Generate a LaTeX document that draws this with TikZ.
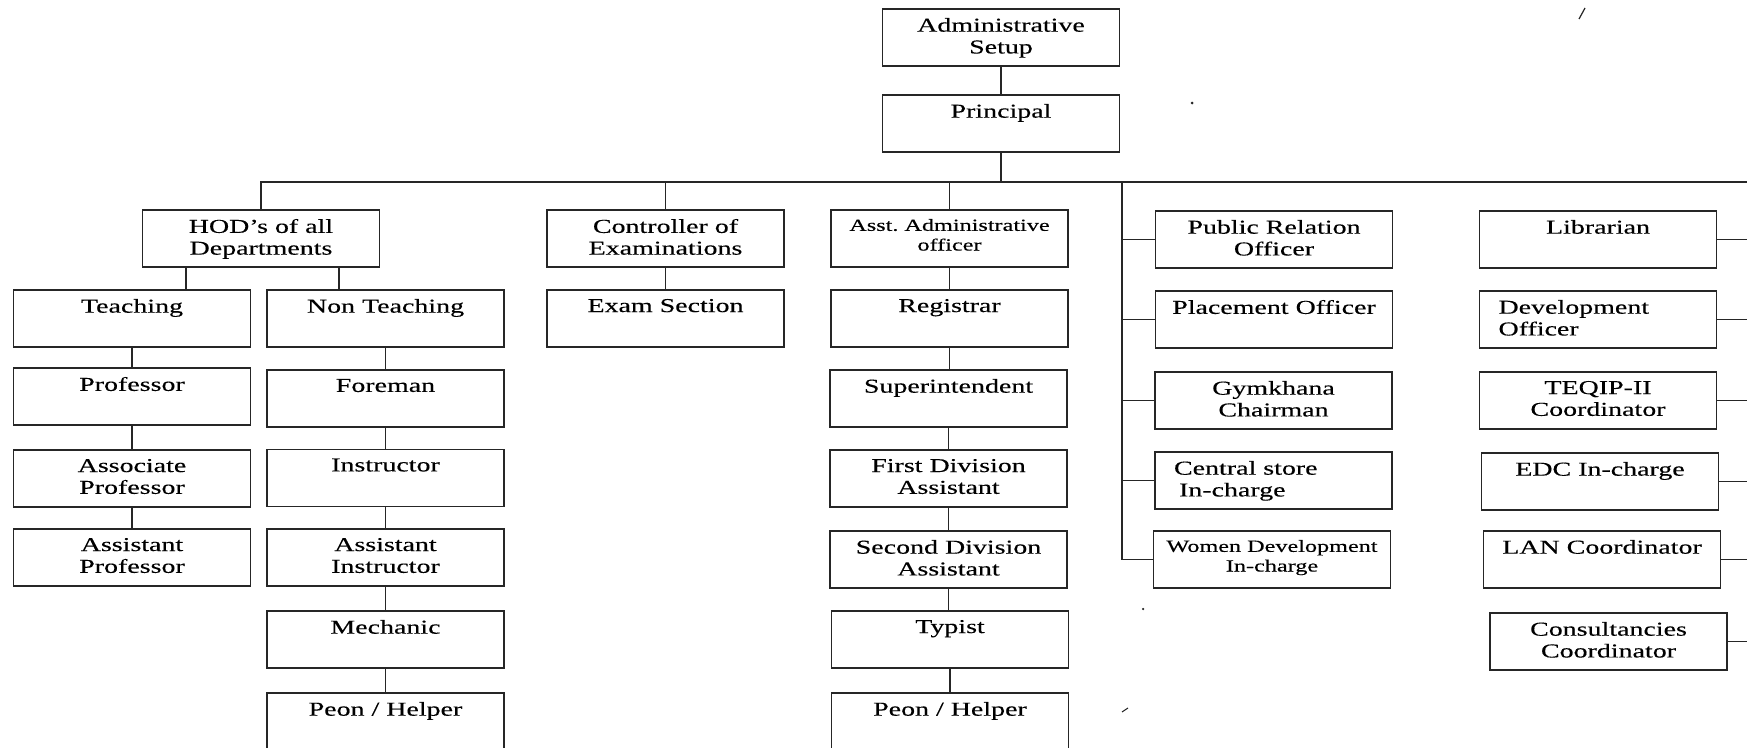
\documentclass[tikz,border=0pt]{standalone}
\usepackage{fontspec}
\setmainfont{Liberation Serif}[FakeStretch=1.42, FakeBold=0.3]
\definecolor{ink}{gray}{0.15}

\tikzset{
	post/.style={draw=ink, text=black, line width=1.05pt, inner sep=0pt,
		minimum width=4.74cm, minimum height=1.14cm},
	link/.style={draw=ink, line width=1.05pt}
}
% text sits at the top of each box
\newcommand{\posttext}[2][\centering]{\parbox[c][1.14cm][t]{4.74cm}{\vspace*{0.18cm}\fontsize{11.2}{12.4}\selectfont#1 #2}}

\begin{document}
\begin{tikzpicture}[x=0.02cm, y=-0.02cm]
\useasboundingbox (0,0) rectangle (1747,747);
\coordinate (busR) at (1747,182);
\coordinate (trunk) at (1122,182);

\node[post] (setup) at (1001,37.5) {\posttext{Administrative\\Setup}};
\node[post] (principal) at (1001,123.5) {\posttext{Principal}};

% first row
\node[post] (hod) at (261,238.5) {\posttext{HOD's of all\\Departments}};
\node[post] (ctrl) at (665.5,238.5) {\posttext{Controller of\\Examinations}};
\node[post] (asst) at (949.5,238.5) {\posttext[\centering\fontsize{9.7}{11.2}\selectfont]{Asst.\ Administrative\\officer}};
\node[post] (pro) at (1274,239.5) {\posttext{Public Relation\\Officer}};
\node[post] (lib) at (1598,239.5) {\posttext{Librarian}};

% second row
\node[post] (teach) at (132,318.5) {\posttext{Teaching}};
\node[post] (nonteach) at (385.5,318.5) {\posttext{Non Teaching}};
\node[post] (exam) at (665.5,318.5) {\posttext{Exam Section}};
\node[post] (registrar) at (949.5,318.5) {\posttext{Registrar}};
\node[post] (place) at (1274,319.5) {\posttext{Placement Officer}};
\node[post] (dev) at (1598,319.5) {\posttext[\raggedright\leftskip=0.38cm]{Development\\Officer}};

% third row
\node[post] (prof) at (132,396.5) {\posttext{Professor}};
\node[post] (foreman) at (385.5,398.5) {\posttext{Foreman}};
\node[post] (supt) at (948.5,398.5) {\posttext{Superintendent}};
\node[post] (gym) at (1273.5,400.5) {\posttext{Gymkhana\\Chairman}};
\node[post] (teqip) at (1598,400.5) {\posttext{TEQIP-II\\Coordinator}};

% fourth row
\node[post] (assoc) at (132,478.5) {\posttext{Associate\\Professor}};
\node[post] (instr) at (385.5,478) {\posttext{Instructor}};
\node[post] (firstdiv) at (948.5,478.5) {\posttext{First Division\\Assistant}};
\node[post] (store) at (1273.5,480.5) {\posttext[\raggedright\leftskip=0.38cm]{Central store\\\hspace*{0.1cm}In-charge}};
\node[post] (edc) at (1600,481.5) {\posttext{EDC In-charge}};

% fifth row
\node[post] (asstprof) at (132,557.5) {\posttext{Assistant\\Professor}};
\node[post] (asstinstr) at (385.5,557.5) {\posttext{Assistant\\Instructor}};
\node[post] (seconddiv) at (948.5,559.5) {\posttext{Second Division\\Assistant}};
\node[post] (women) at (1272,559.5) {\posttext[\centering\fontsize{9.7}{11.2}\selectfont]{Women Development\\In-charge}};
\node[post] (lan) at (1602,559.5) {\posttext{LAN Coordinator}};

% lower rows
\node[post] (mech) at (385.5,639.5) {\posttext{Mechanic}};
\node[post] (typist) at (950,639.5) {\posttext{Typist}};
\node[post] (cons) at (1608.5,641.5) {\posttext{Consultancies\\Coordinator}};
\node[post] (peonA) at (385.5,721.5) {\posttext{Peon / Helper}};
\node[post] (peonB) at (950,721.5) {\posttext{Peon / Helper}};

% bus and branches
\draw[link] (setup) -- (principal);
\draw[link] (principal.south) -- (principal.south |- busR);
\draw[link] (hod.north) |- (busR);
\foreach \n in {ctrl,asst}
	\draw[link] (\n.north) -- (\n.north |- busR);
\draw[link] (trunk) |- (women.west);
\foreach \n in {pro,place,gym,store}
	\draw[link] (trunk |- \n.west) -- (\n.west);
\foreach \n in {lib,dev,teqip,edc,lan,cons}
	\draw[link] (\n.east) -- (\n.east -| busR);

% columns
\draw[link] ([xshift=-1.5cm]hod.south) -- ([xshift=-1.5cm]hod.south |- teach.north);
\draw[link] ([xshift=1.56cm]hod.south) -- ([xshift=1.56cm]hod.south |- nonteach.north);
\foreach \a/\b in {teach/prof,prof/assoc,assoc/asstprof,
	nonteach/foreman,foreman/instr,instr/asstinstr,asstinstr/mech,mech/peonA,
	ctrl/exam,asst/registrar,registrar/supt,supt/firstdiv,firstdiv/seconddiv,
	seconddiv/typist,typist/peonB}
	\draw[link] (\a.south) -- (\a.south |- \b.north);

% specks on the scan
\fill[ink] (1192,103) circle (0.03cm);
\fill[ink] (1143,609) circle (0.025cm);
\draw[ink, line width=0.7pt] (1579,19) -- (1585,8);
\draw[ink, line width=0.6pt] (1122,712) -- (1128,708);
\end{tikzpicture}
\end{document}
